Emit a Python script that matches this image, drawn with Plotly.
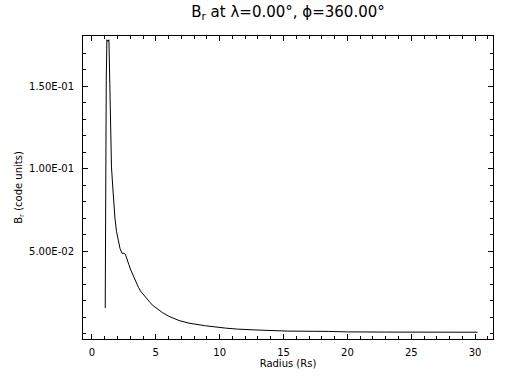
import plotly.graph_objects as go

# Data
radius = [1.04, 1.06, 1.12, 1.17, 1.25, 1.33, 1.37, 1.41, 1.48, 1.53, 1.62, 1.69,
          1.80, 1.92, 2.05, 2.20, 2.36, 2.50, 2.62, 2.75, 2.88, 3.04, 3.25, 3.43,
          3.64, 3.80, 4.09, 4.48, 4.74, 5.13, 5.50, 6.04, 6.82, 7.60, 8.91, 10.47,
          11.38, 13.07, 15.28, 18.54, 20.0, 23.0, 26.0, 30.2]
br = [0.0154, 0.0754, 0.1534, 0.1780, 0.1770, 0.1780, 0.1600, 0.1350, 0.1170, 0.1010,
      0.0900, 0.0810, 0.0700, 0.0620, 0.0560, 0.0515, 0.0485, 0.0487, 0.0480, 0.0455,
      0.0420, 0.0385, 0.0345, 0.0310, 0.0280, 0.0258, 0.0228, 0.0195, 0.0172, 0.0149,
      0.0128, 0.0104, 0.0079, 0.0063, 0.0047, 0.0033, 0.0027, 0.0021, 0.0015, 0.0013,
      0.0010, 0.0009, 0.0009, 0.0008]

x_tickvals = [0, 5, 10, 15, 20, 25, 30]
x_ticktext = ["0", "5", "10", "15", "20", "25", "30"]
y_tickvals = [0.05, 0.10, 0.15]
y_ticktext = ["5.00E-02", "1.00E-01", "1.50E-01"]

font_family = "DejaVu Sans"

fig = go.Figure()
fig.add_trace(go.Scatter(x=radius, y=br, mode="lines",
                         line=dict(color="black", width=1), showlegend=False))

fig.update_layout(
    width=512, height=384,
    margin=dict(l=83, r=19, t=36, b=45),
    paper_bgcolor="white", plot_bgcolor="white",
    font=dict(family=font_family, color="black", size=10),
    title=dict(text="B<sub>r</sub> at λ=0.00°, ϕ=360.00°",
               x=288 / 512, xanchor="center", xref="container",
               y=1 - 12 / 384, yanchor="middle", yref="container",
               font=dict(size=15, family=font_family, color="black")),
)

fig.update_xaxes(
    range=[-0.7, 31.4], showgrid=False, zeroline=False, automargin=False,
    showline=True, linecolor="black", linewidth=1, mirror="allticks",
    ticks="inside", ticklen=5, tickcolor="black", tickwidth=1,
    tickmode="array", tickvals=x_tickvals, ticktext=x_ticktext,
    tickfont=dict(size=10), ticklabelstandoff=4,
    minor=dict(ticks="inside", ticklen=3, tickmode="linear", tick0=0, dtick=1,
               tickcolor="black", showgrid=False),
    title=dict(text="Radius (Rs)", font=dict(size=10), standoff=0),
)
fig.update_yaxes(
    range=[-0.0033, 0.1803], showgrid=False, zeroline=False, automargin=False,
    showline=True, linecolor="black", linewidth=1, mirror="allticks",
    ticks="inside", ticklen=5, tickcolor="black", tickwidth=1,
    tickmode="array", tickvals=y_tickvals, ticktext=y_ticktext,
    tickfont=dict(size=10), ticklabelstandoff=6,
    minor=dict(ticks="inside", ticklen=3, tickmode="linear", tick0=0, dtick=0.01,
               tickcolor="black", showgrid=False),
    title=dict(text="B<sub>r</sub> (code units)", font=dict(size=10), standoff=4),
)

fig.write_html("out.html", config={"displayModeBar": False},
               post_script="document.body.style.margin='0';document.body.style.padding='0';")
